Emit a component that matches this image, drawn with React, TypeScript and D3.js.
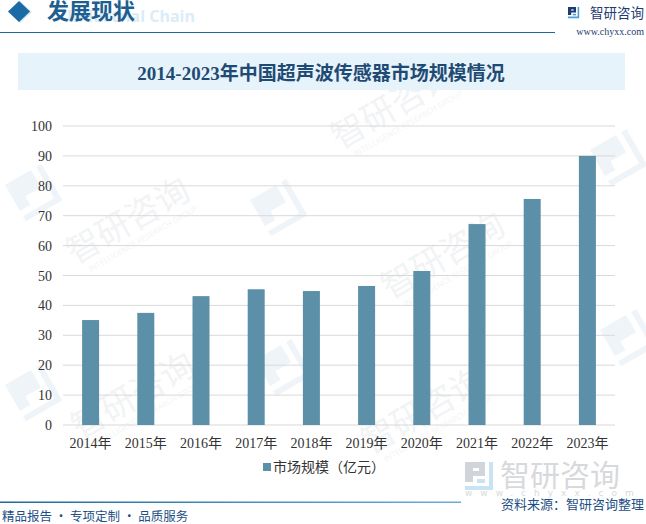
import React from "react";
import * as d3 from "d3";

const years = ["2014年", "2015年", "2016年", "2017年", "2018年", "2019年", "2020年", "2021年", "2022年", "2023年"];
const marketSize = [35.1, 37.5, 43.1, 45.4, 44.8, 46.5, 51.5, 67.2, 75.6, 90.0];
const yTicks = [0, 10, 20, 30, 40, 50, 60, 70, 80, 90, 100];
const titleText = "2014-2023年中国超声波传感器市场规模情况";
const legendLabel = "市场规模（亿元）";

const W = 646;
const H = 524;
const M = { left: 63, right: 615, top: 126, bottom: 425 };
const BAR = "#5b90a8";
const SERIF = "'Liberation Serif', 'Noto Sans CJK SC', serif";
const SANS = "'Noto Sans CJK SC', 'Noto Sans', sans-serif";

const Logo = ({ x, y, s, op = 1, dark = "#1f3b73", light = "#4a9fd8" }: any) => (
  <g transform={`translate(${x},${y}) scale(${s})`} opacity={op}>
    <path d="M0 0 H10 V7 H4 V10 H0 Z" fill={dark} />
    <path d="M4 3 H7 V4.5 H4 Z" fill="#fff" />
    <path d="M12 0 H14 V14 H0 V12 H12 Z" fill={light} />
    <path d="M6 8.5 H10 V10.5 H6 Z" fill={light} />
  </g>
);

const Watermark = ({ x, y }: { x: number; y: number }) => (
  <g transform={`translate(${x},${y}) rotate(-30)`} opacity={0.1}>
    <text x={0} y={0} fontFamily={SANS} fontSize={34} fill="#7f8fa6">智研咨询</text>
    <text x={10} y={14} fontFamily="'Open Sans', sans-serif" fontSize={8} fill="#7f8fa6">INTELLIGENCE RESEARCH GROUP</text>
  </g>
);

const WmIcon = ({ x, y }: { x: number; y: number }) => (
  <g transform={`translate(${x},${y}) rotate(-30)`} opacity={0.07}>
    <path d="M0 0 H30 V20 H12 V30 H0 Z" fill="#2a6fb0" />
    <path d="M36 0 H42 V42 H0 V36 H36 Z" fill="#2a6fb0" />
  </g>
);

export default function App() {
  const x = d3.scaleBand<string>().domain(years).range([M.left, M.right]).paddingInner(0.692).paddingOuter(0.346);
  const y = d3.scaleLinear().domain([0, 100]).range([M.bottom, M.top]);

  return (
    <svg width={W} height={H} style={{ position: "absolute", left: 0, top: 0, background: "#fff" }}>
      <defs>
        <linearGradient id="footLine" x1="0" x2="1" y1="0" y2="0">
          <stop offset="0" stopColor="#1a6aa0" />
          <stop offset="1" stopColor="#6aaedb" />
        </linearGradient>
      </defs>
      <rect width={W} height={H} fill="#fff" />

      {/* watermarks */}
      <Watermark x={340} y={150} />
      <Watermark x={75} y={265} />
      <Watermark x={390} y={300} />
      <Watermark x={80} y={440} />
      <Watermark x={370} y={455} />
      <WmIcon x={590} y={150} />
      <WmIcon x={600} y={330} />
      <WmIcon x={5} y={185} />
      <WmIcon x={5} y={385} />
      <WmIcon x={255} y={360} />
      <WmIcon x={250} y={200} />
      <WmIcon x={690} y={30} />

      {/* header */}
      <path d="M20 1 L32 12 L20 23 L8 12 Z" fill="#d5e6f2" />
      <path d="M19 1 L30 11.5 L19 22 L8 11.5 Z" fill="#1a6aa6" />
      <text x={195} y={22} textAnchor="end" fontFamily="'Open Sans', sans-serif" fontWeight={700} fontSize={16} fill="#dcecf7">Industrial Chain</text>
      <text x={47} y={19} fontFamily={SANS} fontWeight={700} fontSize={22} fill="#1d5f91">发展现状</text>
      <line x1={0} y1={32.5} x2={555} y2={32.5} stroke="#1a6aa0" strokeWidth={1} />
      <Logo x={568} y={7} s={0.8} />
      <text x={590} y={18} fontFamily={SANS} fontSize={13.5} fill="#1f3b73">智研咨询</text>
      <text x={644} y={35} textAnchor="end" fontFamily={SERIF} fontSize={10} fill="#1f3b73">www.chyxx.com</text>

      {/* title */}
      <rect x={18} y={53} width={607} height={37} fill="#e6f3fb" />
      <text x={321} y={80} textAnchor="middle" fontFamily={SERIF} fontWeight={700} fontSize={19} fill="#1f4a74">{titleText}</text>

      {/* grid */}
      {yTicks.map((t) => (
        <g key={t}>
          <line x1={M.left} x2={M.right} y1={y(t)} y2={y(t)} stroke="#d9d9d9" strokeWidth={1} />
          <text x={52} y={y(t) + 5} textAnchor="end" fontFamily={SERIF} fontSize={14} fill="#333">{t}</text>
        </g>
      ))}

      {/* bars */}
      {years.map((yr, i) => (
        <rect key={yr} x={x(yr)} y={y(marketSize[i])} width={x.bandwidth()} height={y(0) - y(marketSize[i])} fill={BAR} />
      ))}

      {/* x labels */}
      {years.map((yr) => (
        <text key={yr} x={(x(yr) as number) + x.bandwidth() / 2} y={448} textAnchor="middle" fontFamily={SERIF} fontSize={14} fill="#333">{yr}</text>
      ))}

      {/* legend */}
      <rect x={263} y={463} width={8} height={8} fill={BAR} />
      <text x={273} y={472} fontFamily={SANS} fontSize={14} fill="#333">{legendLabel}</text>

      {/* bottom logo watermark */}
      <g opacity={0.45}>
        <Logo x={465} y={462} s={2} dark="#9aa3ae" light="#8cc3e8" />
        <text x={500} y={486} fontFamily={SANS} fontSize={30} fill="#a8acb2">智研咨询</text>
        <text x={465} y={496} fontFamily="'DejaVu Sans', sans-serif" fontSize={9} letterSpacing={8} fill="#a8acb2">www.chyxx.com</text>
      </g>

      {/* footer */}
      <rect x={0} y={501.5} width={461} height={1.5} fill="url(#footLine)" />
      <text x={644} y={509} textAnchor="end" fontFamily={SANS} fontSize={13} fill="#1d4f86">资料来源：智研咨询整理</text>
      <text x={2} y={521} fontFamily={SANS} fontSize={12.5} fill="#1d4f86">精品报告 · 专项定制 · 品质服务</text>
    </svg>
  );
}
